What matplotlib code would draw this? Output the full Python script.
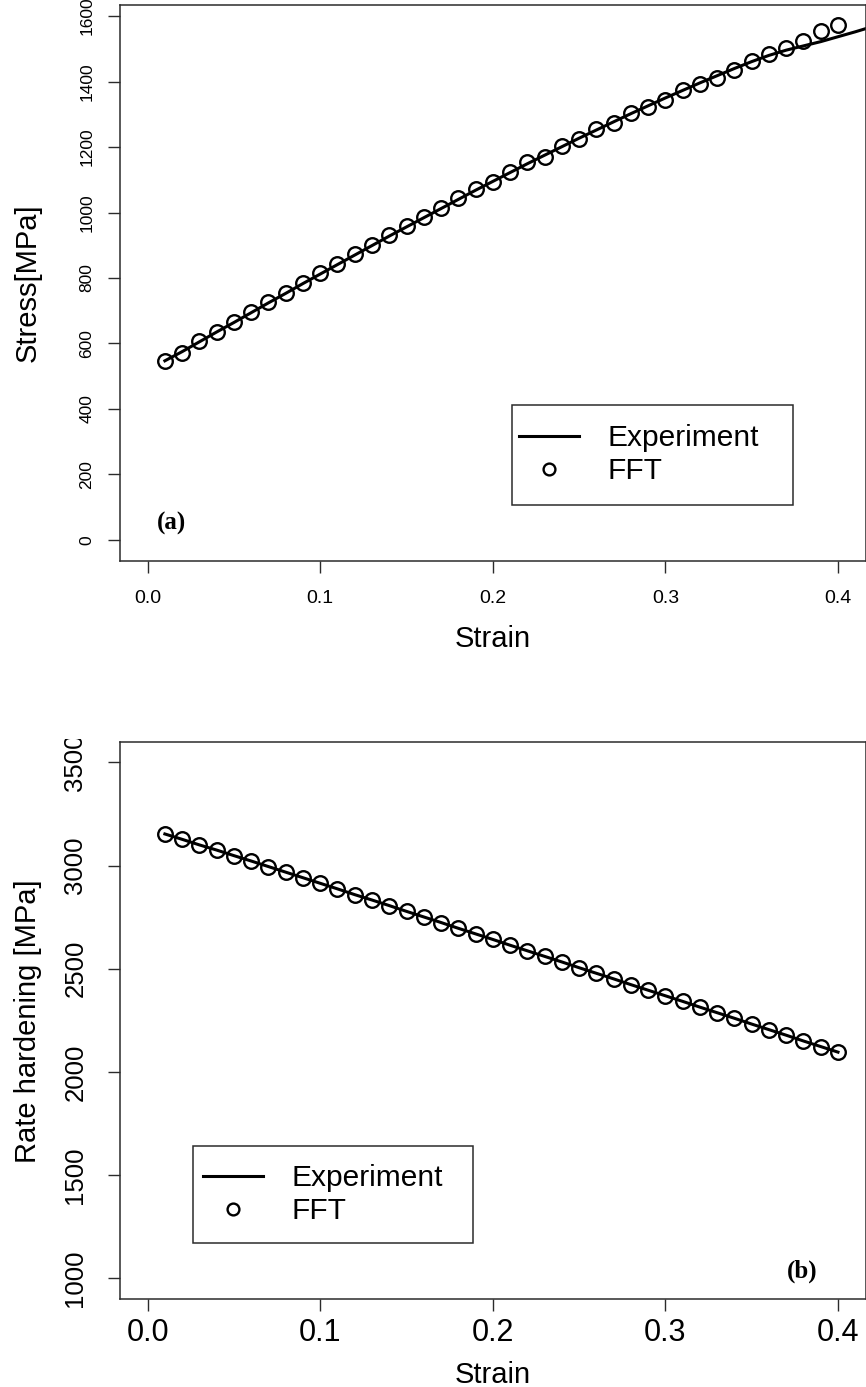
import matplotlib
matplotlib.use("Agg")
import matplotlib.pyplot as plt
from matplotlib.lines import Line2D
from matplotlib.patches import Rectangle
from matplotlib.ticker import FixedLocator, FixedFormatter
from matplotlib.transforms import Bbox, TransformedBbox

plt.rcParams["font.family"] = ["Liberation Sans", "DejaVu Sans"]

# ---- data -------------------------------------------------------------
strain_fft = [0.01, 0.02, 0.03, 0.04, 0.05, 0.06, 0.07, 0.08, 0.09, 0.10,
              0.11, 0.12, 0.13, 0.14, 0.15, 0.16, 0.17, 0.18, 0.19, 0.20,
              0.21, 0.22, 0.23, 0.24, 0.25, 0.26, 0.27, 0.28, 0.29, 0.30,
              0.31, 0.32, 0.33, 0.34, 0.35, 0.36, 0.37, 0.38, 0.39, 0.40]

stress_fft = [547, 572, 607, 635, 666, 696, 727, 753, 784, 814,
              843, 873, 901, 930, 960, 987, 1013, 1043, 1071, 1094,
              1125, 1155, 1170, 1203, 1225, 1254, 1274, 1303, 1323, 1343,
              1374, 1394, 1412, 1435, 1463, 1484, 1504, 1524, 1555, 1573]

strain_exp = [0.01, 0.02, 0.03, 0.04, 0.05, 0.06, 0.07, 0.08, 0.09, 0.10,
              0.11, 0.12, 0.13, 0.14, 0.15, 0.16, 0.17, 0.18, 0.19, 0.20,
              0.21, 0.22, 0.23, 0.24, 0.25, 0.26, 0.27, 0.28, 0.29, 0.30,
              0.31, 0.32, 0.33, 0.34, 0.35, 0.36, 0.37, 0.38, 0.39, 0.40,
              0.41, 0.42]

stress_exp = [547, 575, 605, 635, 664, 694, 724, 753, 783, 812,
              841, 870, 899, 928, 956, 984, 1012, 1040, 1068, 1095,
              1122, 1149, 1175, 1201, 1227, 1252, 1277, 1302, 1326, 1350,
              1373, 1396, 1418, 1440, 1461, 1480, 1496, 1509, 1522, 1537,
              1552, 1568]

rate_fft = [3153, 3127, 3100, 3075, 3048, 3022, 2995, 2968, 2941, 2914,
            2887, 2859, 2833, 2806, 2778, 2751, 2724, 2696, 2669, 2642,
            2614, 2587, 2560, 2533, 2505, 2478, 2451, 2423, 2396, 2369,
            2342, 2314, 2287, 2260, 2232, 2205, 2178, 2150, 2123, 2096]

strain_rate_exp = strain_fft
rate_exp = [3153, 3127, 3100, 3075, 3048, 3022, 2995, 2968, 2941, 2914,
            2887, 2859, 2833, 2806, 2778, 2751, 2724, 2696, 2669, 2642,
            2614, 2587, 2560, 2533, 2505, 2478, 2451, 2423, 2396, 2369,
            2342, 2314, 2287, 2260, 2232, 2205, 2178, 2150, 2123, 2096]

x_ticks = [0.0, 0.1, 0.2, 0.3, 0.4]
x_ticklabels = ["0.0", "0.1", "0.2", "0.3", "0.4"]
stress_ticks = [0, 200, 400, 600, 800, 1000, 1200, 1400, 1600]
stress_ticklabels = ["0", "200", "400", "600", "800", "1000", "1200", "1400", "1600"]
rate_ticks = [1000, 1500, 2000, 2500, 3000, 3500]
rate_ticklabels = ["1000", "1500", "2000", "2500", "3000", "3500"]
legend_labels = ["Experiment", "FFT"]

# ---- layout helpers (pixel coordinates, origin top-left) --------------
W, H = 866, 1387
fig = plt.figure(figsize=(W / 100, H / 100), dpi=100)


def frac_box(x0, y0, x1, y1):
    return [x0 / W, 1 - y1 / H, (x1 - x0) / W, (y1 - y0) / H]


def fx(x):
    return x / W


def fy(y):
    return 1 - y / H


SPINE = "#2b2b2b"
LW_LINE = 2.2
MS = 10.5
MEW = 1.7


def style_axes(ax, xtick_size, ytick_size, xpad, ypad):
    for sp in ax.spines.values():
        sp.set_color(SPINE)
        sp.set_linewidth(1.1)
    ax.tick_params(direction="out", length=8.5, width=1.0, color=SPINE)
    ax.tick_params(axis="x", labelsize=xtick_size, pad=xpad)
    ax.tick_params(axis="y", labelsize=ytick_size, pad=ypad, labelrotation=90)
    for lbl in ax.get_yticklabels():
        lbl.set_verticalalignment("center")


def add_legend(ax, x_handle, y_top, box):
    handles = [Line2D([], [], color="black", lw=LW_LINE),
               Line2D([], [], ls="none", marker="o", mfc="none", mec="black",
                      ms=8.5, mew=MEW)]
    ax.legend(handles, legend_labels, loc="upper left",
              bbox_to_anchor=(fx(x_handle), fy(y_top)),
              bbox_transform=fig.transFigure, frameon=False, borderpad=0,
              borderaxespad=0, handlelength=2.0, handletextpad=0.95,
              labelspacing=0.17, fontsize=21.5)
    x0, y0, x1, y1 = box
    fig.add_artist(Rectangle((fx(x0), fy(y1)), (x1 - x0) / W, (y1 - y0) / H,
                             transform=fig.transFigure, fill=False,
                             lw=1.1, ec=SPINE))


# ---- (a) stress-strain ------------------------------------------------
ax1 = fig.add_axes(frac_box(120, 5.3, 865.6, 560.5))
ax1.plot(strain_exp, stress_exp, color="black", lw=LW_LINE)
ax1.plot(strain_fft, stress_fft, ls="none", marker="o", mfc="none",
         mec="black", ms=MS, mew=MEW)
ax1.set_xlim(-0.016, 0.416)
ax1.set_ylim(-63, 1633)
ax1.xaxis.set_major_locator(FixedLocator(x_ticks))
ax1.xaxis.set_major_formatter(FixedFormatter(x_ticklabels))
ax1.yaxis.set_major_locator(FixedLocator(stress_ticks))
ax1.yaxis.set_major_formatter(FixedFormatter(stress_ticklabels))
style_axes(ax1, 14, 12.5, 12.5, 10)
ax1.text(0.014, 50, "(a)", family="Liberation Serif", weight="bold",
         fontsize=18, ha="center", va="center")
add_legend(ax1, 519, 424, (512, 405, 793, 505))
fig.text(fx(492.8), fy(647), "Strain", fontsize=21, ha="center", va="baseline")
fig.text(fx(28), fy(283), "Stress[MPa]", fontsize=21, rotation=90,
         ha="center", va="center")

# ---- (b) hardening rate -----------------------------------------------
ax2 = fig.add_axes(frac_box(120, 741.7, 865.6, 1299))
ax2.plot(strain_rate_exp, rate_exp, color="black", lw=LW_LINE)
ax2.plot(strain_fft, rate_fft, ls="none", marker="o", mfc="none",
         mec="black", ms=MS, mew=MEW)
ax2.set_xlim(-0.016, 0.416)
ax2.set_ylim(900, 3600)
ax2.xaxis.set_major_locator(FixedLocator(x_ticks))
ax2.xaxis.set_major_formatter(FixedFormatter(x_ticklabels))
ax2.yaxis.set_major_locator(FixedLocator(rate_ticks))
ax2.yaxis.set_major_formatter(FixedFormatter(rate_ticklabels))
style_axes(ax2, 22, 18.5, 5.5, 15)
ax2.text(0.379, 1035, "(b)", family="Liberation Serif", weight="bold",
         fontsize=18, ha="center", va="center")
add_legend(ax2, 203, 1164, (193, 1146, 473, 1243))
fig.text(fx(492.8), fy(1383), "Strain", fontsize=21, ha="center", va="baseline")
fig.text(fx(28), fy(1021), "Rate hardening [MPa]", fontsize=21, rotation=90,
         ha="center", va="center")

# lower panel's tick labels stay inside the lower panel region
panel_clip = TransformedBbox(Bbox.from_extents(0, 0, 1, fy(739)), fig.transFigure)
for lbl in ax2.get_yticklabels():
    lbl.set_clip_on(True)
    lbl.set_clip_box(panel_clip)

fig.savefig("out.png", dpi=100)
